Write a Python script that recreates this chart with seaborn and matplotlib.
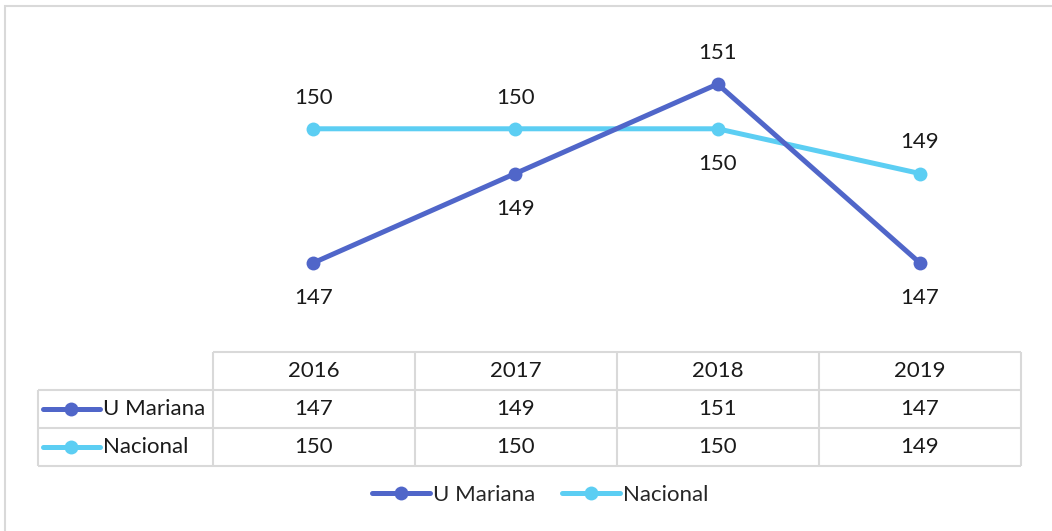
import numpy as np
import pandas as pd
import matplotlib.pyplot as plt
import seaborn as sns
from matplotlib.lines import Line2D
from matplotlib.patches import Rectangle

# data
years = ["2016", "2017", "2018", "2019"]
u_mariana = [147, 149, 151, 147]
nacional = [150, 150, 150, 149]
series_names = ["U Mariana", "Nacional"]
colors = {"U Mariana": "#5066C9", "Nacional": "#5CCEF3"}
# label above (+1) or below (-1) each point
u_mariana_pos = [-1, -1, 1, -1]
nacional_pos = [1, 1, -1, 1]

W, H = 1052, 531
sns.set_theme(style="white")
plt.rcParams['font.family'] = ['Lato', 'DejaVu Sans']
FS = 16

fig = plt.figure(figsize=(W / 100, H / 100), dpi=100)

def fx(px):
    return px / W

def fy(py):
    return 1 - py / H

# outer chart border (only left/top visible)
fig.patches.append(Rectangle((fx(5), fy(560)), fx(1100), fy(6) - fy(560),
                             transform=fig.transFigure, fill=False,
                             edgecolor="#d9d9d9", lw=1.5))

# plot area
ax = fig.add_axes([fx(212), fy(330), fx(1021) - fx(212), fy(17) - fy(330)])
df = pd.DataFrame({
    "x": list(range(len(years))) * 2,
    "value": u_mariana + nacional,
    "serie": ["U Mariana"] * len(years) + ["Nacional"] * len(years),
})
sns.lineplot(data=df, x="x", y="value", hue="serie", hue_order=series_names[::-1],
             palette=colors, marker="o", markersize=10, markeredgewidth=0,
             linewidth=3.6, sort=False, legend=False, ax=ax)
ax.set_xlim(-0.5, len(years) - 0.5)
ax.set_ylim(145.5, 152.5)
ax.axis("off")

for vals, pos in [(u_mariana, u_mariana_pos), (nacional, nacional_pos)]:
    for i, (v, p) in enumerate(zip(vals, pos)):
        ax.annotate(str(v), (i, v), xytext=(0, 24 * p - 1.5), textcoords="offset points",
                    ha="center", va="center", fontsize=FS, color="#1a1a1a")

# data table
tab = fig.add_axes([fx(38), fy(466), fx(1021) - fx(38), fy(352) - fy(466)])
left = -0.5 - 175 / 202
tab.set_xlim(left, len(years) - 0.5)
tab.set_ylim(0, 3)
tab.axis("off")
gc = "#d9d9d9"
tab.hlines(3, -0.5, len(years) - 0.5, color=gc, lw=1.5, clip_on=False)
tab.hlines([0, 1, 2], left, len(years) - 0.5, color=gc, lw=1.5, clip_on=False)
tab.vlines([left], 0, 2, color=gc, lw=1.5, clip_on=False)
tab.vlines(np.arange(len(years) + 1) - 0.5, 0, 3, color=gc, lw=1.5, clip_on=False)
for i, y in enumerate(years):
    tab.text(i, 2.5, y, ha="center", va="center", fontsize=FS, color="#1a1a1a")
for r, (name, vals) in enumerate(zip(series_names, [u_mariana, nacional])):
    yc = 1.5 - r
    for i, v in enumerate(vals):
        tab.text(i, yc, str(v), ha="center", va="center", fontsize=FS, color="#1a1a1a")
    k0 = left + 5 / 202
    k1 = left + 62 / 202
    tab.plot([k0, k1], [yc, yc], color=colors[name], lw=3.6, solid_capstyle="round")
    tab.plot([(k0 + k1) / 2], [yc], "o", color=colors[name], markersize=10, markeredgewidth=0)
    tab.text(left + 65 / 202, yc, name, ha="left", va="center", fontsize=FS, color="#1a1a1a")

# legend
handles = [Line2D([], [], color=colors[n], lw=3.6, marker="o", markersize=10,
                  markeredgewidth=0, solid_capstyle="round") for n in series_names]
fig.legend(handles, series_names, loc="center", bbox_to_anchor=(fx(540), fy(495)),
           ncol=2, frameon=False, fontsize=FS, handlelength=2.6, handletextpad=0.15,
           columnspacing=1.2)

fig.savefig("out.png", dpi=100)
